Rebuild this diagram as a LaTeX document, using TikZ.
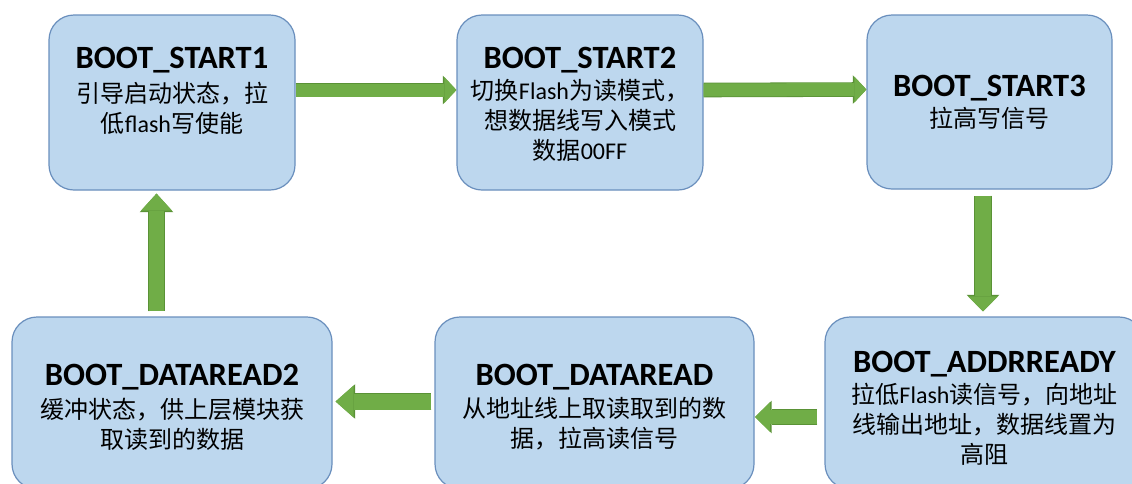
\documentclass[tikz,border=0pt]{standalone}
\usepackage{fontspec}
\setmainfont{Carlito}
\newfontfamily\zhfont{Noto Sans CJK SC}
\usetikzlibrary{arrows.meta}
\definecolor{boxfill}{HTML}{BDD7EE}
\definecolor{boxline}{HTML}{6A8FBD}
\definecolor{flowfill}{HTML}{70AD47}
\definecolor{flowline}{HTML}{5A9236}
% Latin words inside Chinese lines
\newcommand{\lat}[1]{{\rmfamily #1}}
\tikzset{
  state/.style={draw=boxline, fill=boxfill, line width=1.2pt, rounded corners=25pt, inner sep=0pt},
  stitle/.style={font=\fontsize{32.5}{32.5}\selectfont\bfseries, anchor=base, inner sep=0pt},
  sbody/.style={font=\fontsize{24}{30}\selectfont\zhfont, align=center, anchor=north, inner sep=0pt},
  flow/.style n args={3}{line width=#1, draw=flowfill,
    -{Triangle[width=#2, length=#3, line width=0pt]},
    preaction={draw=flowline, line width=#1+1.6pt,
      -{Triangle[width=#2+2.6pt, length=#3+1.6pt, line width=0pt]}}},
}
\begin{document}
\begin{tikzpicture}[x=1pt, y=-1pt]
\clip (0,0) rectangle (1132,483);
\fill[white] (0,0) rectangle (1132,483);

% states
\node[state, minimum width=246pt, minimum height=175pt] (b1) at (172,102.5) {};
\node[state, minimum width=246pt, minimum height=175pt] (b2) at (580,102.5) {};
\node[state, minimum width=245pt, minimum height=174pt] (b3) at (989.5,102) {};
\node[state, minimum width=319pt, minimum height=172pt] (b4) at (984.5,403) {};
\node[state, minimum width=319pt, minimum height=172pt] (b5) at (594.5,403) {};
\node[state, minimum width=320pt, minimum height=172pt] (b6) at (172,403) {};

% titles
\node[stitle] (t1) at (172,68) {BOOT\_START1};
\node[stitle] (t2) at (580,68) {BOOT\_START2};
\node[stitle] (t3) at (989.5,96) {BOOT\_START3};
\node[stitle] (t4) at (984.5,372) {BOOT\_ADDRREADY};
\node[stitle] (t5) at (594.5,385) {BOOT\_DATAREAD};
\node[stitle] (t6) at (172,385) {BOOT\_DATAREAD2};

% descriptions
\node[sbody] (d1) at (172,81.5) {引导启动状态，拉\\低\lat{flash}写使能};
\node[sbody] (d2) at (580,79) {切换\lat{Flash}为读模式，\\想数据线写入模式\\数据\lat{00FF}};
\node[sbody] (d3) at (989.5,107) {拉高写信号};
\node[sbody] (d4) at (984.5,383) {拉低\lat{Flash}读信号，向地址\\线输出地址，数据线置为\\高阻};
\node[sbody] (d5) at (594.5,397) {从地址线上取读取到的数\\据，拉高读信号};
\node[sbody] (d6) at (172,398) {缓冲状态，供上层模块获\\取读到的数据};

% transitions
\draw[flow={13pt}{26pt}{12pt}] ([yshift=12.5pt]b1.east) -- ([yshift=12.5pt]b2.west);
\draw[flow={13pt}{26pt}{12pt}] ([yshift=12.5pt]b2.east) -- ([yshift=12.5pt]b3.west);
\draw[flow={16pt}{30pt}{15pt}] ([xshift=-6.5pt,yshift=-6pt]b3.south) -- ([xshift=-1.5pt,yshift=5pt]b4.north);
\draw[flow={14pt}{30pt}{15pt}] ([xshift=-7pt,yshift=-14pt]b4.west) -- ([xshift=0.5pt,yshift=-14pt]b5.east);
\draw[flow={16pt}{32pt}{18pt}] ([xshift=-3pt,yshift=1.5pt]b5.west) -- ([xshift=3pt,yshift=1.5pt]b6.east);
\draw[flow={15pt}{31pt}{17pt}] ([xshift=-15.5pt,yshift=5pt]b6.north) -- ([xshift=-15.5pt,yshift=-3pt]b1.south);
\end{tikzpicture}
\end{document}
